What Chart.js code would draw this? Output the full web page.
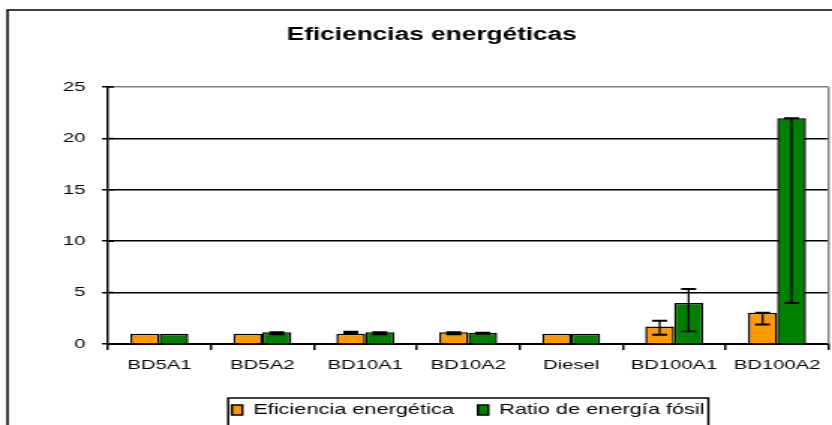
<!DOCTYPE html>
<html>
<head>
<meta charset="utf-8">
<script src="https://cdn.jsdelivr.net/npm/chart.js@4"></script>
<style>
  body { margin: 0; background: #fff; }
</style>
</head>
<body>
<!-- la imagen original está estirada en horizontal, por eso el lienzo se dibuja más estrecho y se estira con CSS -->
<canvas id="grafica" width="555" height="425" style="width:832px;height:425px;display:block"></canvas>
<script>
// Datos del gráfico
var titulo = 'Eficiencias energéticas';
var categorias = ['BD5A1', 'BD5A2', 'BD10A1', 'BD10A2', 'Diesel', 'BD100A1', 'BD100A2'];
var nombresSeries = ['Eficiencia energética', 'Ratio de energía fósil'];

var eficiencia = [1.0, 1.0, 1.0, 1.15, 1.0, 1.7, 3.05];
var eficienciaMas = [0, 0, 0.2, 0, 0, 0.55, 0];
var eficienciaMenos = [0, 0, 0, 0.2, 0, 0.8, 1.15];

var ratioFosil = [1.0, 1.15, 1.15, 1.1, 1.0, 4.0, 21.95];
var ratioMas = [0, 0, 0, 0, 0, 1.35, 0];
var ratioMenos = [0, 0.2, 0.2, 0.1, 0, 2.75, 17.95];

var ticksY = [0, 5, 10, 15, 20, 25];

var fuente = 'Liberation Sans, Arial, sans-serif';
var errores = [
    { mas: eficienciaMas, menos: eficienciaMenos },
    { mas: ratioMas, menos: ratioMenos }
];

// Plugin: marco exterior, título, barras de error, borde de leyenda
var decoracion = {
    id: 'decoracion',
    beforeDraw: function (chart) {
        var ctx = chart.ctx;
        ctx.save();
        ctx.strokeStyle = '#000';
        ctx.lineWidth = 1.5;
        ctx.beginPath();
        ctx.moveTo(5, 430);
        ctx.lineTo(5, 10);
        ctx.lineTo(560, 10);
        ctx.stroke();

        ctx.fillStyle = '#000';
        ctx.font = 'bold 17.5px ' + fuente;
        ctx.textAlign = 'center';
        ctx.textBaseline = 'middle';
        ctx.fillText(titulo, 288, 35);
        ctx.restore();
    },
    afterDatasetsDraw: function (chart) {
        var ctx = chart.ctx;
        var escalaY = chart.scales.y;
        var area = chart.chartArea;
        ctx.save();
        ctx.strokeStyle = '#000';

        // barras de error
        chart.data.datasets.forEach(function (ds, i) {
            var meta = chart.getDatasetMeta(i);
            meta.data.forEach(function (barra, j) {
                var mas = errores[i].mas[j];
                var menos = errores[i].menos[j];
                if (!mas && !menos) return;
                var yArriba = escalaY.getPixelForValue(ds.data[j] + mas);
                var yAbajo = escalaY.getPixelForValue(ds.data[j] - menos);
                ctx.lineWidth = 1.3;
                ctx.beginPath();
                ctx.moveTo(barra.x, yArriba);
                ctx.lineTo(barra.x, yAbajo);
                ctx.stroke();
                ctx.lineWidth = 2;
                ctx.beginPath();
                ctx.moveTo(barra.x - 5, yArriba);
                ctx.lineTo(barra.x + 5, yArriba);
                ctx.moveTo(barra.x - 5, yAbajo);
                ctx.lineTo(barra.x + 5, yAbajo);
                ctx.stroke();
            });
        });

        // marcas del eje Y hacia dentro
        ctx.lineWidth = 1.5;
        ctx.beginPath();
        ticksY.forEach(function (v) {
            var y = escalaY.getPixelForValue(v);
            ctx.moveTo(area.left, y);
            ctx.lineTo(area.left + 4, y);
        });
        ctx.stroke();

        // borde derecho del área de trazado
        ctx.strokeStyle = '#808080';
        ctx.lineWidth = 1.5;
        ctx.beginPath();
        ctx.moveTo(area.right, area.top);
        ctx.lineTo(area.right, area.bottom);
        ctx.stroke();
        ctx.restore();
    },
    afterDraw: function (chart) {
        var leyenda = chart.legend;
        if (!leyenda || !leyenda.legendHitBoxes.length) return;
        var cajas = leyenda.legendHitBoxes;
        var izq = Math.min.apply(null, cajas.map(function (c) { return c.left; })) - 2.5;
        var der = Math.max.apply(null, cajas.map(function (c) { return c.left + c.width; })) + 2.5;
        var ctx = chart.ctx;
        ctx.save();
        ctx.strokeStyle = '#000';
        ctx.lineWidth = 1.5;
        ctx.strokeRect(izq, 398, der - izq, 40);
        ctx.restore();
    }
};

var ctx = document.getElementById('grafica').getContext('2d');
var miGrafica = new Chart(ctx, {
    type: 'bar',
    data: {
        labels: categorias,
        datasets: [{
            label: nombresSeries[0],
            data: eficiencia,
            backgroundColor: '#FF9900',
            borderColor: '#000',
            borderWidth: 1.5
        }, {
            label: nombresSeries[1],
            data: ratioFosil,
            backgroundColor: '#008000',
            borderColor: '#000',
            borderWidth: 1.5
        }]
    },
    options: {
        responsive: false,
        devicePixelRatio: 1,
        animation: false,
        categoryPercentage: 0.563,
        barPercentage: 1,
        layout: { padding: { top: 87, right: 2.3, left: 0, bottom: -2.25 } },
        plugins: {
            title: { display: false },
            tooltip: { enabled: false },
            legend: {
                position: 'bottom',
                fullSize: false,
                labels: {
                    color: '#000',
                    font: { family: fuente, size: 14.5 },
                    boxWidth: 7,
                    boxHeight: 10,
                    padding: 16
                }
            }
        },
        scales: {
            x: {
                ticks: { color: '#000', font: { family: fuente, size: 13.5 }, padding: 7, maxRotation: 0, autoSkip: false },
                grid: { display: true, drawOnChartArea: false, offset: true, tickLength: 6, color: '#000', lineWidth: 1.5 },
                border: { color: '#000', width: 2 },
                afterFit: function (escala) { escala.height = 42.75; }
            },
            y: {
                min: 0,
                max: 25,
                afterBuildTicks: function (escala) {
                    escala.ticks = ticksY.map(function (v) { return { value: v }; });
                },
                ticks: { color: '#000', font: { family: fuente, size: 13.5 }, padding: 11 },
                grid: {
                    color: function (c) { return c.tick && c.tick.value === 25 ? '#808080' : '#000'; },
                    tickColor: '#000',
                    lineWidth: 1.5,
                    tickLength: 4
                },
                border: { color: '#000', width: 1.5 },
                afterFit: function (escala) { escala.width = 72; }
            }
        }
    },
    plugins: [decoracion]
});
</script>
</body>
</html>
